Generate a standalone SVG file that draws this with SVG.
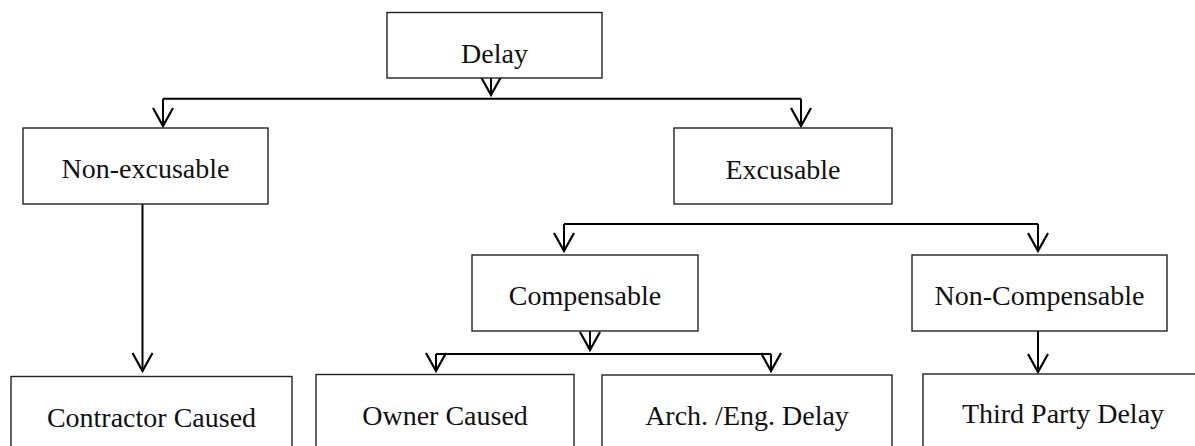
<svg xmlns="http://www.w3.org/2000/svg" width="1195" height="446" viewBox="0 0 1195 446">
<style>
.box{fill:#fff;stroke:#222;stroke-width:1.4}
.lbl{font-family:"Liberation Serif","Times New Roman",serif;font-size:28px;fill:#111;text-anchor:middle}
.con{fill:none;stroke:#000;stroke-width:2}
</style>
<defs>
<marker id="v" markerUnits="userSpaceOnUse" markerWidth="20" markerHeight="24" refX="0" refY="0" orient="auto" overflow="visible">
<path d="M-18,-10 L0,0 L-18,10" fill="none" stroke="#000" stroke-width="2.2"/>
</marker>
</defs>
<rect width="1195" height="446" fill="#fff"/>
<g id="connectors">
<path class="con" d="M491,78 V95" marker-end="url(#v)"/>
<path class="con" d="M163,98.7 H801"/>
<path class="con" d="M163,98.7 V126" marker-end="url(#v)"/>
<path class="con" d="M801,98.7 V126" marker-end="url(#v)"/>
<path class="con" d="M142.5,204 V371" marker-end="url(#v)"/>
<path class="con" d="M564,224 H1038"/>
<path class="con" d="M564,224 V251" marker-end="url(#v)"/>
<path class="con" d="M1038,224 V251" marker-end="url(#v)"/>
<path class="con" d="M590,331 V350" marker-end="url(#v)"/>
<path class="con" d="M436,354 H771"/>
<path class="con" d="M436,354 V371" marker-end="url(#v)"/>
<path class="con" d="M771,354 V371" marker-end="url(#v)"/>
<path class="con" d="M1038,331 V372" marker-end="url(#v)"/>
</g>
<g id="delay"><rect class="box" x="387" y="12.5" width="215" height="65.5"/><text class="lbl" x="494.5" y="63">Delay</text></g>
<g id="nonexcusable"><rect class="box" x="23" y="128" width="245" height="76"/><text class="lbl" x="145.5" y="178">Non-excusable</text></g>
<g id="excusable"><rect class="box" x="674" y="128" width="218" height="76"/><text class="lbl" x="783" y="179">Excusable</text></g>
<g id="compensable"><rect class="box" x="472" y="255" width="226" height="76"/><text class="lbl" x="585" y="305">Compensable</text></g>
<g id="noncompensable"><rect class="box" x="912" y="255" width="255" height="76"/><text class="lbl" x="1039.5" y="305">Non-Compensable</text></g>
<g id="contractor"><rect class="box" x="11" y="376.5" width="281" height="90"/><text class="lbl" x="151.5" y="427">Contractor Caused</text></g>
<g id="owner"><rect class="box" x="316" y="374.5" width="258" height="90"/><text class="lbl" x="445" y="425">Owner Caused</text></g>
<g id="arch"><rect class="box" x="602" y="375" width="290" height="90"/><text class="lbl" x="747" y="425">Arch. /Eng. Delay</text></g>
<g id="thirdparty"><rect class="box" x="923" y="374" width="290" height="90"/><text class="lbl" x="1063" y="423">Third Party Delay</text></g>
</svg>
